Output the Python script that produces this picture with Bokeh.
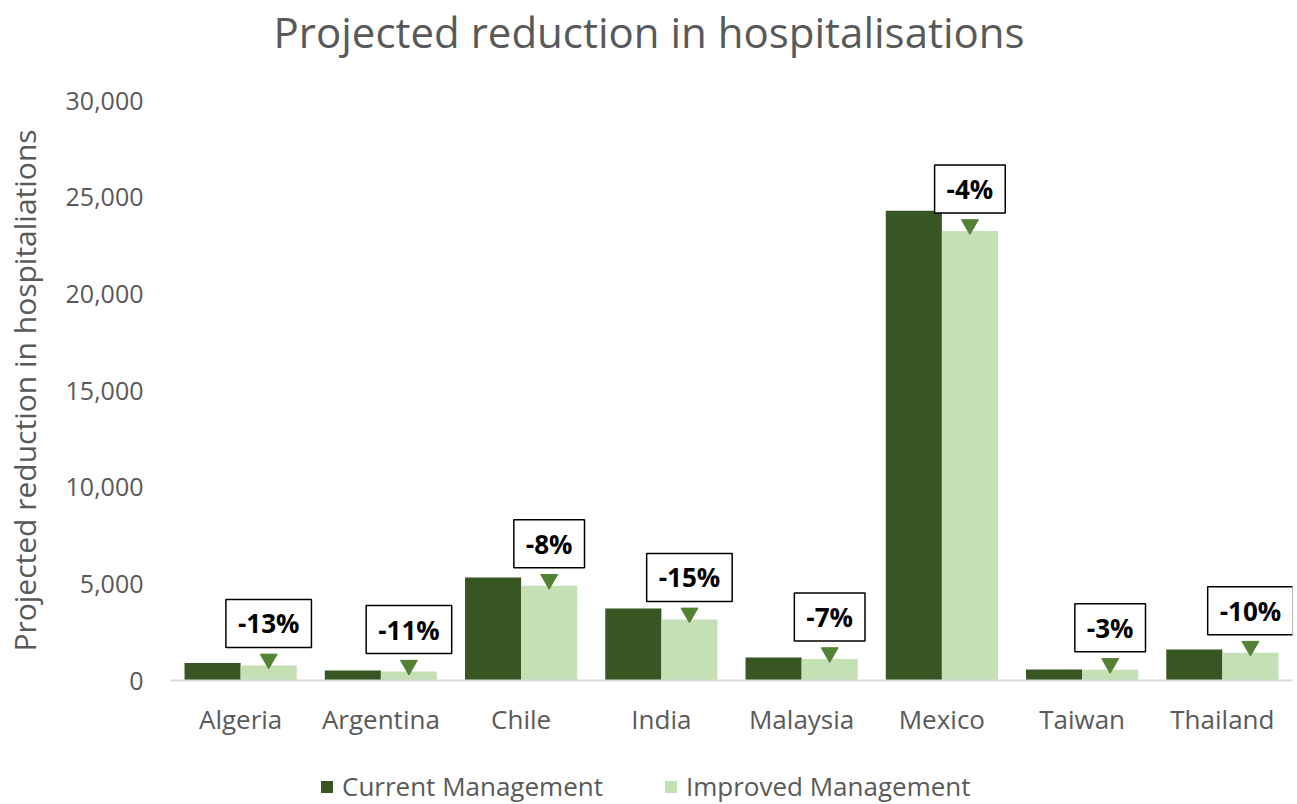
from bokeh.plotting import figure
from bokeh.models import Range1d, FactorRange, NumeralTickFormatter, Legend, LegendItem, ColumnDataSource, Title
from bokeh.layouts import column
from bokeh.transform import dodge
from bokeh.core.properties import value
from bokeh.embed import file_html
from bokeh.resources import INLINE

countries = ["Algeria", "Argentina", "Chile", "India", "Malaysia", "Mexico", "Taiwan", "Thailand"]
current = [900, 520, 5330, 3720, 1190, 24300, 570, 1600]
improved = [780, 460, 4900, 3160, 1110, 23250, 550, 1440]
pct_labels = ["-13%", "-11%", "-8%", "-15%", "-7%", "-4%", "-3%", "-10%"]
series_names = ["Current Management", "Improved Management"]
title_text = "Projected reduction in hospitalisations"
y_title = "Projected reduction in hospitaliations"

DARK = "#375623"
LIGHT = "#C5E0B4"
MARK = "#548235"
GREY = "#595959"
FONT = "Open Sans"

src = ColumnDataSource(dict(country=countries, current=current, improved=improved,
                            label=pct_labels,
                            marker_y=[v + 330 for v in improved]))

p = figure(x_range=FactorRange(*countries), y_range=Range1d(0, 30000),
           frame_width=1122, frame_height=580, output_backend="svg", toolbar_location=None,
           min_border_left=170, min_border_right=1, min_border_top=100, min_border_bottom=60)

p.vbar(x=dodge("country", -0.2, range=p.x_range), top="current", width=0.4,
       source=src, fill_color=DARK, line_color=None)
p.vbar(x=dodge("country", 0.2, range=p.x_range), top="improved", width=0.4,
       source=src, fill_color=LIGHT, line_color=None)

p.scatter(x=dodge("country", 0.2, range=p.x_range), y="marker_y", source=src,
          marker="inverted_triangle", size=17, fill_color=MARK, line_color=MARK)

p.text(x=dodge("country", 0.2, range=p.x_range), y="improved", text="label", source=src,
       y_offset=-42, text_align="center", text_baseline="middle",
       text_font=value(FONT), text_font_style="bold", text_font_size="26px", text_color="black",
       background_fill_color="white", border_line_color="black", border_line_width=1.5,
       padding=(12, 6))

# spacer between the title and the plot area
p.add_layout(Title(text=" ", text_font_size="35px", standoff=0), "above")

p.title.text = title_text
p.title.align = "left"
p.title.offset = 103
p.title.text_font = FONT
p.title.text_font_size = "42px"
p.title.text_font_style = "normal"
p.title.text_color = GREY
p.title.standoff = 0

p.xgrid.grid_line_color = None
p.ygrid.grid_line_color = None
p.outline_line_color = None

p.yaxis.formatter = NumeralTickFormatter(format="0,0")
p.yaxis.ticker = [0, 5000, 10000, 15000, 20000, 25000, 30000]
p.yaxis.axis_line_color = None
p.yaxis.major_tick_line_color = None
p.yaxis.minor_tick_line_color = None
p.yaxis.major_label_text_font = FONT
p.yaxis.major_label_text_font_size = "25px"
p.yaxis.major_label_text_color = GREY
p.yaxis.major_label_standoff = 21
p.yaxis.axis_label = y_title
p.yaxis.axis_label_text_font = FONT
p.yaxis.axis_label_text_font_size = "30px"
p.yaxis.axis_label_text_font_style = "normal"
p.yaxis.axis_label_text_color = GREY
p.yaxis.axis_label_standoff = 18

p.xaxis.axis_line_color = "#D9D9D9"
p.xaxis.axis_line_width = 2
p.xaxis.major_tick_line_color = None
p.xaxis.minor_tick_line_color = None
p.xaxis.major_label_text_font = FONT
p.xaxis.major_label_text_font_size = "26px"
p.xaxis.major_label_text_color = GREY
p.xaxis.major_label_standoff = 14
p.x_range.range_padding = 0.0
p.x_range.group_padding = 0.0

# legend strip below the chart (its swatch glyphs sit outside the visible range)
lg = figure(width=1293, height=64, x_range=Range1d(0, 1), y_range=Range1d(0, 1),
            output_backend="svg", toolbar_location=None, x_axis_type=None, y_axis_type=None,
            min_border=0)
lg.outline_line_color = None
swatch = ColumnDataSource(dict(x=[-5], top=[-5]))
g1 = lg.vbar(x="x", top="top", width=0.1, source=swatch, fill_color=DARK, line_color=None)
g2 = lg.vbar(x="x", top="top", width=0.1, source=swatch, fill_color=LIGHT, line_color=None)
legend = Legend(items=[LegendItem(label=series_names[0], renderers=[g1]),
                       LegendItem(label=series_names[1], renderers=[g2])],
                orientation="horizontal", location=(149, 0),
                label_text_font=FONT, label_text_font_size="26px", label_text_color=GREY,
                glyph_width=15, glyph_height=15, spacing=60, border_line_color=None,
                background_fill_alpha=0, margin=0, padding=0, label_standoff=8)
lg.add_layout(legend)

open("out.html", "w").write(file_html(column(p, lg, spacing=0), INLINE))
